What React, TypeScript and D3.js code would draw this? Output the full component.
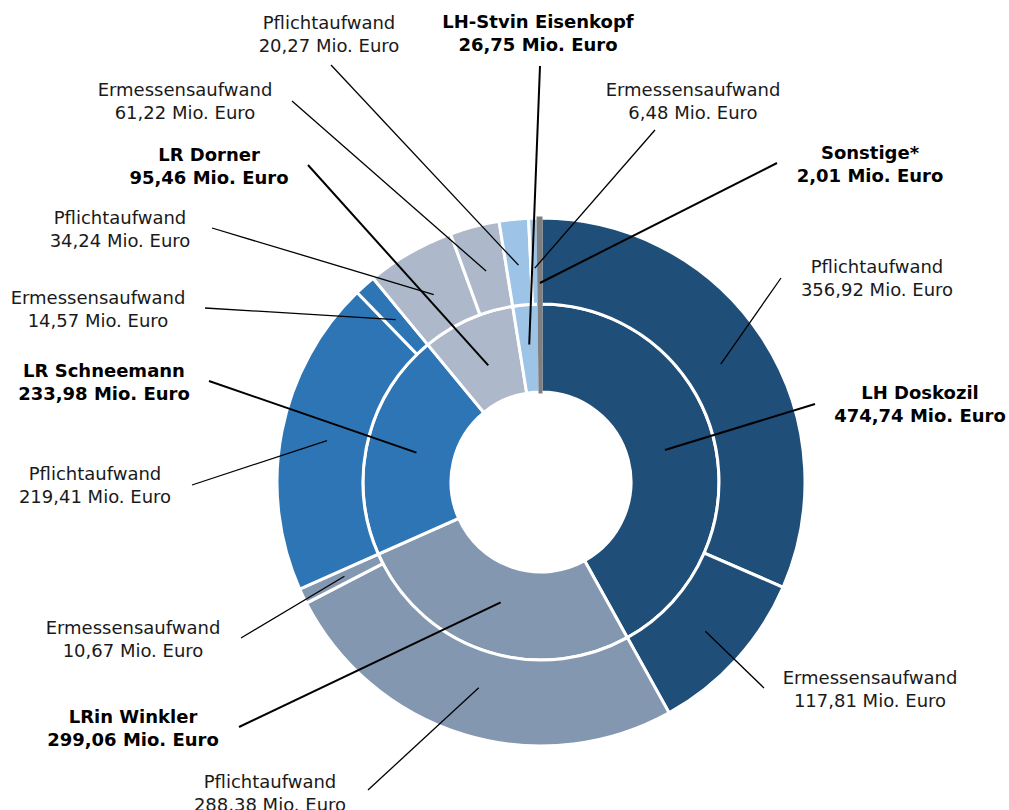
import React from 'react';
import * as d3 from 'd3';

// inner ring: departments
const innerNames = ['LH Doskozil', 'LRin Winkler', 'LR Schneemann', 'LR Dorner', 'LH-Stvin Eisenkopf', 'Sonstige*'];
const innerValues = [474.74, 299.06, 233.98, 95.46, 26.75, 2.01];
const innerColors = ['#1F4E79', '#8497B0', '#2E75B6', '#ADB9CA', '#9DC3E6', '#7F7F7F'];

// outer ring: split per department, slice sizes as drawn
const outerValues = [356.92, 117.81, 288.38, 10.67, 219.41, 14.57, 61.22, 34.24, 20.27, 6.48, 2.01];
const outerParent = [0, 0, 1, 1, 2, 2, 3, 3, 4, 4, 5];

// labels
const labelTitles = [
  'Pflichtaufwand', 'LH-Stvin Eisenkopf', 'Ermessensaufwand', 'Ermessensaufwand',
  'LR Dorner', 'Sonstige*', 'Pflichtaufwand', 'Pflichtaufwand',
  'Ermessensaufwand', 'LR Schneemann', 'LH Doskozil', 'Pflichtaufwand',
  'Ermessensaufwand', 'Ermessensaufwand', 'LRin Winkler', 'Pflichtaufwand',
];
const labelAmounts = [20.27, 26.75, 61.22, 6.48, 95.46, 2.01, 34.24, 356.92, 14.57, 233.98, 474.74, 219.41, 10.67, 117.81, 299.06, 288.38];
const labelRing = ['o', 'i', 'o', 'o', 'i', 'o', 'o', 'o', 'o', 'i', 'i', 'o', 'o', 'o', 'i', 'o'];
const labelSlice = [8, 4, 7, 9, 3, 10, 6, 0, 5, 2, 0, 4, 3, 1, 1, 2];
const labelBold = [false, true, false, false, true, true, false, false, false, true, true, false, false, false, true, false];

// manual label placement: text centre, first line y, leader start, leader end radius
const labelLayout = [
  [329, 23, 331, 65, 218], [538, 22, 540, 66, 138], [185, 90, 292, 101, 218], [693, 90, 655, 130, 214],
  [209, 155, 308, 165, 128], [870, 153, 777, 163, 199], [120, 218, 212, 228, 216], [877, 267, 781, 278, 215],
  [98, 298, 205, 308, 218], [104, 371, 209, 381, 128], [920, 393, 815, 404, 128], [95, 474, 192, 485, 218],
  [133, 628, 241, 638, 218], [870, 678, 764, 688, 222], [133, 717, 239, 727, 127], [270, 782, 368, 790, 215],
];

const fmt = d3.formatLocale({ decimal: ',', thousands: '.', grouping: [3], currency: ['', '€'] }).format('.2f');

const cx = 541;
const cy = 482;

export default function App() {
  const pie = d3.pie<number>().sort(null).value(d => d);
  const innerArcs = pie(innerValues);
  const outerArcs = pie(outerValues);

  const innerArc = d3.arc<d3.PieArcDatum<number>>().innerRadius(90).outerRadius(178);
  const outerArc = d3.arc<d3.PieArcDatum<number>>().innerRadius(178).outerRadius(264);

  const last = innerValues.length - 1;

  return (
    <svg width={1009} height={810} style={{ position: 'absolute', left: 0, top: 0 }}
      fontFamily="'DejaVu Sans', Verdana, sans-serif" fontSize={18}>
      <rect width={1009} height={810} fill="#fff" />
      <g transform={`translate(${cx},${cy})`}>
        {innerArcs.map((a, i) => i === last ? null : (
          <path key={'i' + i} d={innerArc(a) || ''} fill={innerColors[i]} stroke="#fff" strokeWidth={3} />
        ))}
        {outerArcs.map((a, i) => outerParent[i] === last ? null : (
          <path key={'o' + i} d={outerArc(a) || ''} fill={innerColors[outerParent[i]]} stroke="#fff" strokeWidth={3} />
        ))}
        {/* Sonstige on top, outlined in its own colour */}
        <path d={innerArc(innerArcs[last]) || ''} fill={innerColors[last]} stroke={innerColors[last]} strokeWidth={3} />
        {outerArcs.map((a, i) => outerParent[i] !== last ? null : (
          <path key={'s' + i} d={outerArc(a) || ''} fill={innerColors[last]} stroke={innerColors[last]} strokeWidth={3} />
        ))}
      </g>
      {labelTitles.map((t, i) => {
        const [tx, ty, lx, ly, r] = labelLayout[i];
        const arcs = labelRing[i] === 'i' ? innerArcs : outerArcs;
        const [ex, ey] = d3.arc<d3.PieArcDatum<number>>().innerRadius(r).outerRadius(r).centroid(arcs[labelSlice[i]]);
        const bold = labelBold[i];
        return (
          <g key={'l' + i}>
            <line x1={lx} y1={ly} x2={cx + ex} y2={cy + ey} stroke="#000" strokeWidth={bold ? 2 : 1.3} />
            <text x={tx} y={ty} textAnchor="middle" fontWeight={bold ? 'bold' : 'normal'} fill={bold ? '#000' : '#1a1a1a'}>
              <tspan x={tx} dy="0.35em">{t}</tspan>
              <tspan x={tx} dy={22.5}>{fmt(labelAmounts[i]) + ' Mio. Euro'}</tspan>
            </text>
          </g>
        );
      })}
    </svg>
  );
}
